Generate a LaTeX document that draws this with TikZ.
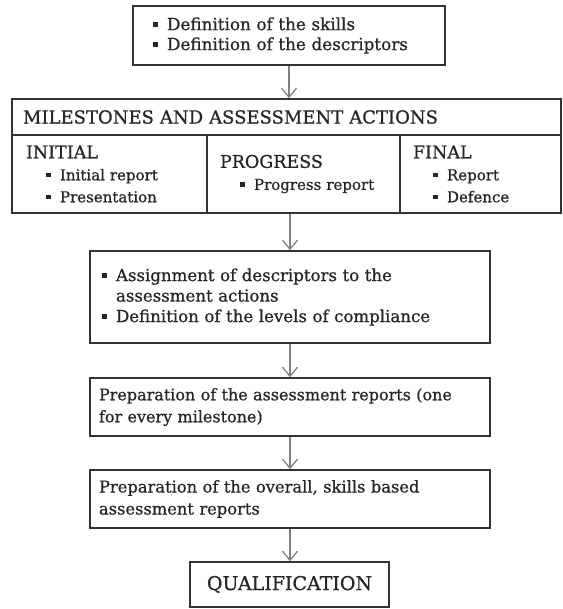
\documentclass[tikz,border=0pt]{standalone}
\usepackage{fontspec}
\setmainfont{DejaVu Serif}[BoldFont={DejaVu Serif},BoldFeatures={FakeBold=0.8}]
\usetikzlibrary{arrows.meta}

\tikzset{
	box/.style={draw=black!80, line width=1.6pt, rectangle, inner sep=0pt, text=black!85, font=\bfseries\fontsize{16}{20}\selectfont},
	cell/.style={box, minimum height=78, align=left, font=\bfseries\fontsize{15}{22}\selectfont},
	arr/.style={draw=black!50, line width=1.3pt, -{Straight Barb[length=9pt,width=15pt,line width=1.3pt]}},
}
\newcommand{\bul}{\makebox[14pt][l]{\rule[0.2em]{0.3em}{0.3em}}}
\newcommand{\caps}[1]{{\fontsize{17.5}{22}\selectfont #1}}

\begin{document}
\begin{tikzpicture}[x=1pt,y=-1pt]
		\useasboundingbox (0,0) rectangle (562,609);

		\node[box, minimum width=312, minimum height=59, text width=272, align=left, font=\bfseries\fontsize{16.8}{20}\selectfont] (defs) at (289,35.5)
			{\bul Definition of the skills\\ \bul Definition of the descriptors};

		\node[box, minimum width=549, minimum height=36, text width=527, align=left, font=\bfseries\fontsize{18}{20}\selectfont] (head) at (286.5,117)
			{MILESTONES AND ASSESSMENT ACTIONS};
		\node[cell, minimum width=195, text width=167] (initial) at (109.5,174)
			{\caps{INITIAL}\\ \hspace*{20pt}\bul Initial report\\ \hspace*{20pt}\bul Presentation};
		\node[cell, minimum width=193, text width=167] (progress) at (303.5,174)
			{\caps{PROGRESS}\\ \hspace*{20pt}\bul Progress report};
		\node[cell, minimum width=161, text width=135] (final) at (480.5,174)
			{\caps{FINAL}\\ \hspace*{20pt}\bul Report\\ \hspace*{20pt}\bul Defence};

		\node[box, minimum width=400, minimum height=92, text width=376, align=left, font=\bfseries\fontsize{16.6}{20.5}\selectfont] (assign) at (290,297)
			{\bul Assignment of descriptors to the\\ \hspace*{14pt}assessment actions\\ \bul Definition of the levels of compliance};
		\node[box, minimum width=400, minimum height=58, text width=382, align=left, font=\bfseries\fontsize{16}{22}\selectfont] (reports) at (290,407)
			{Preparation of the assessment reports (one\\ for every milestone)};
		\node[box, minimum width=400, minimum height=58, text width=382, align=left, font=\bfseries\fontsize{16.3}{22}\selectfont] (overall) at (290,499)
			{Preparation of the overall, skills based\\ assessment reports};
		\node[box, minimum width=199, minimum height=45, font=\bfseries\fontsize{19}{20}\selectfont] (qual) at (289.5,584.5)
			{QUALIFICATION};

		\draw[arr] (defs.south) -- (defs.south |- head.north);
		\draw[arr] (progress.south -| assign.north) -- (assign.north);
		\draw[arr] (assign) -- (reports);
		\draw[arr] (reports) -- (overall);
		\draw[arr] (overall.south) -- (overall.south |- qual.north);

	\end{tikzpicture}
\end{document}
